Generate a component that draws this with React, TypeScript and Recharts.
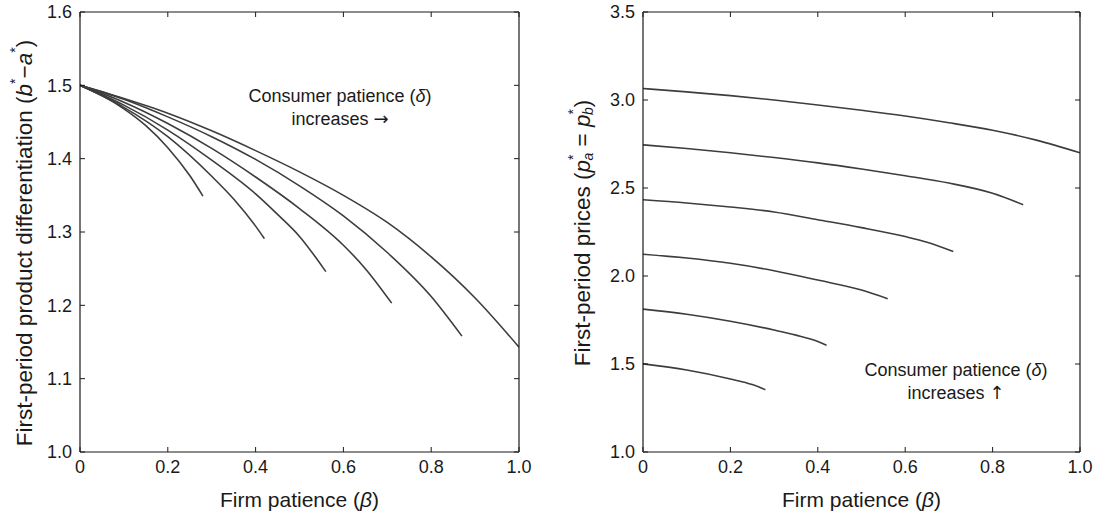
import { LineChart, Line, XAxis, YAxis } from 'recharts';

const betaTicks = [0, 0.2, 0.4, 0.6, 0.8, 1.0];
const diffTicks = [1.0, 1.1, 1.2, 1.3, 1.4, 1.5, 1.6];
const priceTicks = [1.0, 1.5, 2.0, 2.5, 3.0, 3.5];

// left panel: first-period differentiation, one curve per consumer patience level
const diffBeta1 = [0, 0.05, 0.1, 0.15, 0.2, 0.25, 0.28];
const diffVal1 = [1.5, 1.486, 1.468, 1.445, 1.415, 1.377, 1.349];
const diffBeta2 = [0, 0.1, 0.2, 0.3, 0.35, 0.4, 0.42];
const diffVal2 = [1.5, 1.47, 1.43, 1.376, 1.345, 1.308, 1.291];
const diffBeta3 = [0, 0.1, 0.2, 0.3, 0.4, 0.45, 0.5, 0.56];
const diffVal3 = [1.5, 1.473, 1.439, 1.398, 1.352, 1.324, 1.294, 1.246];
const diffBeta4 = [0, 0.1, 0.2, 0.3, 0.4, 0.5, 0.6, 0.65, 0.71];
const diffVal4 = [1.5, 1.477, 1.448, 1.414, 1.375, 1.332, 1.282, 1.25, 1.203];
const diffBeta5 = [0, 0.1, 0.2, 0.3, 0.4, 0.5, 0.6, 0.7, 0.8, 0.87];
const diffVal5 = [1.5, 1.481, 1.457, 1.43, 1.399, 1.363, 1.322, 1.272, 1.212, 1.158];
const diffBeta6 = [0, 0.1, 0.2, 0.3, 0.4, 0.5, 0.6, 0.7, 0.8, 0.9, 1.0];
const diffVal6 = [1.5, 1.482, 1.462, 1.438, 1.411, 1.382, 1.35, 1.313, 1.266, 1.21, 1.143];

// right panel: first-period prices
const priceBeta1 = [0, 0.1, 0.2, 0.25, 0.28];
const priceVal1 = [1.501, 1.466, 1.415, 1.383, 1.354];
const priceBeta2 = [0, 0.1, 0.2, 0.3, 0.35, 0.4, 0.42];
const priceVal2 = [1.812, 1.783, 1.743, 1.693, 1.664, 1.628, 1.607];
const priceBeta3 = [0, 0.1, 0.2, 0.3, 0.4, 0.5, 0.56];
const priceVal3 = [2.124, 2.102, 2.072, 2.03, 1.977, 1.92, 1.871];
const priceBeta4 = [0, 0.1, 0.2, 0.3, 0.4, 0.5, 0.6, 0.65, 0.71];
const priceVal4 = [2.433, 2.415, 2.392, 2.364, 2.32, 2.275, 2.224, 2.192, 2.139];
const priceBeta5 = [0, 0.1, 0.2, 0.3, 0.4, 0.5, 0.6, 0.7, 0.8, 0.87];
const priceVal5 = [2.745, 2.724, 2.7, 2.673, 2.643, 2.608, 2.57, 2.528, 2.47, 2.405];
const priceBeta6 = [0, 0.1, 0.2, 0.3, 0.4, 0.5, 0.6, 0.7, 0.8, 0.9, 1.0];
const priceVal6 = [3.065, 3.046, 3.025, 3.0, 2.972, 2.942, 2.909, 2.871, 2.828, 2.772, 2.7];

const zip = (xs: number[], ys: number[]) => xs.map((x, i) => ({ x, y: ys[i] }));

const diffCurves = [
  zip(diffBeta1, diffVal1),
  zip(diffBeta2, diffVal2),
  zip(diffBeta3, diffVal3),
  zip(diffBeta4, diffVal4),
  zip(diffBeta5, diffVal5),
  zip(diffBeta6, diffVal6),
];
const priceCurves = [
  zip(priceBeta1, priceVal1),
  zip(priceBeta2, priceVal2),
  zip(priceBeta3, priceVal3),
  zip(priceBeta4, priceVal4),
  zip(priceBeta5, priceVal5),
  zip(priceBeta6, priceVal6),
];

const INK = '#1a1a1a';
const CURVE = '#3d3d3d';
const TICK_LEN = 5;
const ARROW_FONT = '"DejaVu Sans", sans-serif';
const fmtBeta = (v: number) => (v === 0 ? '0' : v.toFixed(1));
const fmtOne = (v: number) => v.toFixed(1);

// ticks point into the plot on all four sides, labels only bottom/left
const BottomTick = (p: any) => (
  <g>
    <line x1={p.x} x2={p.x} y1={p.y} y2={p.y - TICK_LEN} stroke={INK} />
    <text x={p.x} y={p.y + 8} dy="0.71em" textAnchor="middle" fontSize={18} fill={INK}>
      {fmtBeta(p.payload.value)}
    </text>
  </g>
);
const LeftTick = (p: any) => (
  <g>
    <line x1={p.x} x2={p.x + TICK_LEN} y1={p.y} y2={p.y} stroke={INK} />
    <text x={p.x - 8} y={p.y} dy="0.355em" textAnchor="end" fontSize={18} fill={INK}>
      {fmtOne(p.payload.value)}
    </text>
  </g>
);
const TopTick = (p: any) => <line x1={p.x} x2={p.x} y1={p.y} y2={p.y + TICK_LEN} stroke={INK} />;
const RightTick = (p: any) => <line x1={p.x - TICK_LEN} x2={p.x} y1={p.y} y2={p.y} stroke={INK} />;

const axisLine = { stroke: INK, strokeWidth: 1.2 };

const axisSet = (yDomain: [number, number], yTicks: number[]) => [
  <XAxis
    key="xb"
    xAxisId="b"
    type="number"
    dataKey="x"
    domain={[0, 1]}
    ticks={betaTicks}
    interval={0}
    tick={BottomTick}
    tickLine={false}
    tickSize={0}
    tickMargin={0}
    height={30}
    axisLine={axisLine}
    allowDataOverflow
  />,
  <XAxis
    key="xt"
    xAxisId="t"
    orientation="top"
    type="number"
    dataKey="x"
    domain={[0, 1]}
    ticks={betaTicks}
    interval={0}
    tick={TopTick}
    tickLine={false}
    tickSize={0}
    tickMargin={0}
    height={1}
    axisLine={axisLine}
    allowDataOverflow
  />,
  <YAxis
    key="yl"
    yAxisId="l"
    type="number"
    domain={yDomain}
    ticks={yTicks}
    interval={0}
    tick={LeftTick}
    tickLine={false}
    tickSize={0}
    tickMargin={0}
    width={60}
    axisLine={axisLine}
    allowDataOverflow
  />,
  <YAxis
    key="yr"
    yAxisId="r"
    orientation="right"
    type="number"
    domain={yDomain}
    ticks={yTicks}
    interval={0}
    tick={RightTick}
    tickLine={false}
    tickSize={0}
    tickMargin={0}
    width={1}
    axisLine={axisLine}
    allowDataOverflow
  />,
];

export default function App() {
  return (
    <div
      style={{
        position: 'absolute',
        left: 0,
        top: 0,
        width: 1099,
        height: 516,
        background: '#fff',
        fontFamily: '"Liberation Sans", Arial, Helvetica, sans-serif',
      }}
    >
      <div style={{ position: 'absolute', left: 0, top: 0 }}>
        <LineChart width={550} height={516} margin={{ top: 11, right: 30, bottom: 34, left: 20 }}>
          {axisSet([1.0, 1.6], diffTicks)}
          {diffCurves.map((d, i) => (
            <Line
              key={i}
              data={d}
              xAxisId="b"
              yAxisId="l"
              dataKey="y"
              type="monotone"
              stroke={CURVE}
              strokeWidth={1.6}
              dot={false}
              isAnimationActive={false}
            />
          ))}
          <text x={340} y={102} textAnchor="middle" fontSize={18} fill={INK}>
            Consumer patience (<tspan fontStyle="italic">δ</tspan>)
          </text>
          <text x={340} y={125} textAnchor="middle" fontSize={18} fill={INK}>
            increases <tspan fontFamily={ARROW_FONT}>→</tspan>
          </text>
          <text x={299.5} y={507} textAnchor="middle" fontSize={21} fill={INK}>
            Firm patience (<tspan fontStyle="italic">β</tspan>)
          </text>
          <text
            x={24}
            y={243}
            transform="rotate(-90, 24, 243)"
            textAnchor="middle"
            dominantBaseline="central"
            fontSize={22.5}
            fill={INK}
          >
            First-period product differentiation (<tspan fontStyle="italic">b</tspan>
            <tspan fontSize={14} dy={-9}>*</tspan>
            <tspan dy={9}>−</tspan>
            <tspan fontStyle="italic">a</tspan>
            <tspan fontSize={14} dy={-9}>*</tspan>
            <tspan dy={9}>)</tspan>
          </text>
        </LineChart>
      </div>
      <div style={{ position: 'absolute', left: 555, top: 0 }}>
        <LineChart width={544} height={516} margin={{ top: 11, right: 18, bottom: 34, left: 28 }}>
          {axisSet([1.0, 3.5], priceTicks)}
          {priceCurves.map((d, i) => (
            <Line
              key={i}
              data={d}
              xAxisId="b"
              yAxisId="l"
              dataKey="y"
              type="monotone"
              stroke={CURVE}
              strokeWidth={1.6}
              dot={false}
              isAnimationActive={false}
            />
          ))}
          <text x={401} y={376} textAnchor="middle" fontSize={18} fill={INK}>
            Consumer patience (<tspan fontStyle="italic">δ</tspan>)
          </text>
          <text x={401} y={399} textAnchor="middle" fontSize={18} fill={INK}>
            increases <tspan fontFamily={ARROW_FONT}>↑</tspan>
          </text>
          <text x={306.5} y={507} textAnchor="middle" fontSize={21} fill={INK}>
            Firm patience (<tspan fontStyle="italic">β</tspan>)
          </text>
          <text
            x={27}
            y={233}
            transform="rotate(-90, 27, 233)"
            textAnchor="middle"
            dominantBaseline="central"
            fontSize={22.5}
            fill={INK}
          >
            First-period prices (<tspan fontStyle="italic">p</tspan>
            <tspan fontSize={14} dy={-9}>*</tspan>
            <tspan fontSize={14} fontStyle="italic" dx={-6} dy={15}>a</tspan>
            <tspan dy={-6}> = </tspan>
            <tspan fontStyle="italic">p</tspan>
            <tspan fontSize={14} dy={-9}>*</tspan>
            <tspan fontSize={14} fontStyle="italic" dx={-6} dy={15}>b</tspan>
            <tspan dy={-6}>)</tspan>
          </text>
        </LineChart>
      </div>
    </div>
  );
}
